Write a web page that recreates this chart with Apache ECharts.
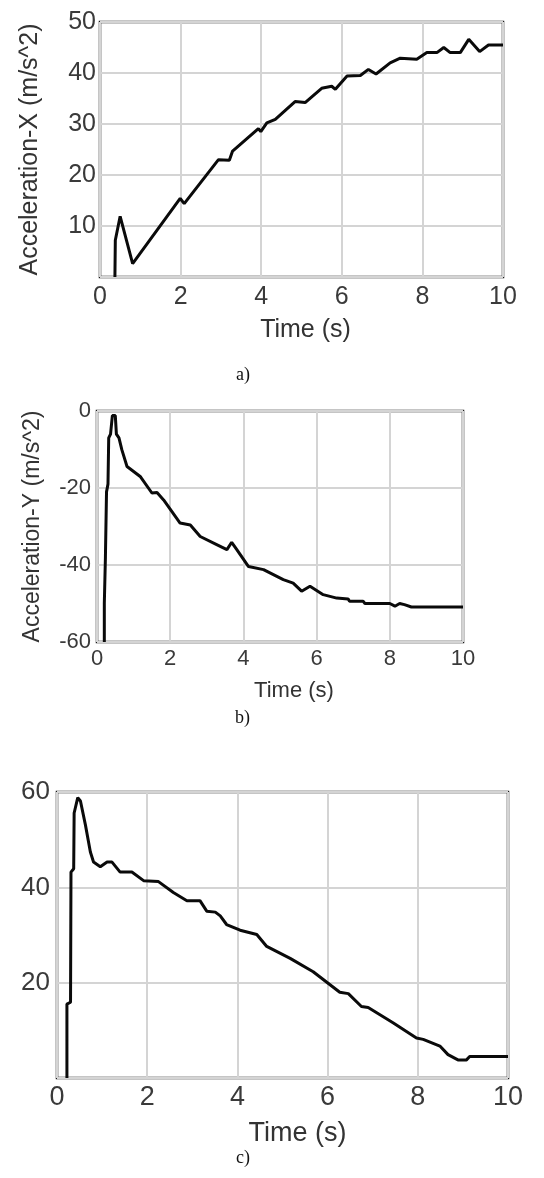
<!DOCTYPE html>
<html>
<head>
<meta charset="utf-8">
<script src="https://cdn.jsdelivr.net/npm/echarts@6/dist/echarts.min.js"></script>
<style>
html,body{margin:0;padding:0;background:#fff;}
#c{width:544px;height:1178px;}
</style>
</head>
<body>
<div id="c"></div>
<script>
// ---- data ----
const timeA  = [0.37,0.38,0.50,0.81,1.99,2.09,2.94,3.21,3.29,3.93,3.99,4.14,4.35,4.84,5.09,5.50,5.75,5.84,6.13,6.46,6.66,6.85,7.20,7.45,7.86,8.11,8.36,8.53,8.69,8.94,9.15,9.42,9.64,10.0];
const accelX = [0,7.2,11.9,2.6,15.4,14.4,23.0,22.9,24.7,29.1,28.5,30.2,30.9,34.4,34.2,37.0,37.4,36.8,39.4,39.5,40.7,39.8,42.0,42.9,42.7,44.0,44.0,45.0,44.0,44.0,46.6,44.2,45.5,45.5];

const timeB  = [0.20,0.20,0.23,0.26,0.30,0.32,0.37,0.42,0.50,0.53,0.60,0.68,0.82,1.18,1.50,1.64,1.82,2.27,2.55,2.82,3.27,3.55,3.68,3.82,4.14,4.55,5.09,5.36,5.59,5.82,6.18,6.55,6.86,6.90,7.27,7.32,8.00,8.14,8.27,8.40,8.59,10.0];
const accelY = [-60,-50,-38,-21,-19,-7,-6,-1.2,-1.2,-6,-7,-10.1,-14.4,-17.0,-21.3,-21.2,-23.1,-29.1,-29.6,-32.6,-34.7,-36.0,-34.1,-36.0,-40.4,-41.2,-43.8,-44.7,-46.8,-45.5,-47.7,-48.6,-48.8,-49.4,-49.4,-50.0,-50.0,-50.7,-50.0,-50.3,-50.9,-50.9];

const timeC  = [0.22,0.22,0.30,0.31,0.37,0.38,0.46,0.52,0.63,0.74,0.81,0.96,1.11,1.22,1.40,1.66,1.92,2.25,2.58,2.88,3.17,3.32,3.51,3.62,3.76,4.06,4.43,4.65,5.17,5.68,6.27,6.46,6.75,6.90,7.45,7.97,8.12,8.49,8.67,8.89,9.08,9.15,10.0];
const accelC = [0,15.5,15.9,43.2,43.9,55.6,58.8,58.1,53.1,47.4,45.3,44.3,45.3,45.3,43.2,43.2,41.4,41.2,38.9,37.2,37.2,35.0,34.8,34.0,32.2,31.0,30.1,27.6,25.1,22.3,18.0,17.7,15.0,14.8,11.6,8.4,8.1,6.7,4.9,3.8,3.8,4.5,4.5];

const xTicks = {min:0, max:10, interval:2};
const yTicksA = {min:0, max:50, interval:10};
const yTicksB = {min:-60, max:0, interval:20};
const yTicksC = {min:0, max:60, interval:20};

const xName = 'Time (s)';
const yNameA = 'Acceleration-X (m/s^2)';
const yNameB = 'Acceleration-Y (m/s^2)';
const captions = ['a)','b)','c)'];

// ---- chart ----
const FONT = '"Liberation Sans", Arial, Helvetica, sans-serif';
const pair = (xs, ys) => xs.map((x,i)=>[x, ys[i]]);
const split = {show:true, lineStyle:{color:'#d4d4d4', width:2}};

function xAxis(gi, fs, gap, margin, namePad) {
  return Object.assign({
    type:'value', gridIndex:gi,
    name:xName, nameLocation:'middle', nameGap:gap,
    nameTextStyle:{fontFamily:FONT, fontSize:fs, color:'#333', padding:[0,0,0,namePad]},
    axisLine:{show:false}, axisTick:{show:false},
    axisLabel:{fontFamily:FONT, fontSize:fs, color:'#3a3a3a', margin:margin},
    splitLine:split
  }, xTicks);
}
function yAxis(gi, ticks, fs, name, nfs, gap, margin, hideZero) {
  return Object.assign({
    type:'value', gridIndex:gi,
    name:name, nameLocation:'middle', nameGap:gap,
    nameTextStyle:{fontFamily:FONT, fontSize:nfs, color:'#333'},
    axisLine:{show:false}, axisTick:{show:false},
    axisLabel:{fontFamily:FONT, fontSize:fs, color:'#3a3a3a', margin:margin,
      formatter:v => (hideZero && v===0) ? '' : String(v)},
    splitLine:split
  }, ticks);
}
const border = {show:true, borderColor:'#1a1a1a', borderWidth:2.5, backgroundColor:'#fff'};
const lineSeries = (i, data) => ({
  type:'line', xAxisIndex:i, yAxisIndex:i, data:data, showSymbol:false,
  lineStyle:{color:'#0a0a0a', width:3}, animation:false
});

const chart = echarts.init(document.getElementById('c'), null, {renderer:'canvas'});
chart.setOption({
  backgroundColor:'#fff',
  animation:false,
  grid:[
    Object.assign({left:100, top:22, width:403, height:255}, border),
    Object.assign({left:97, top:411, width:366, height:231}, border),
    Object.assign({left:57, top:792, width:451, height:286}, border)
  ],
  xAxis:[ xAxis(0, 25, 41, 8, 8), xAxis(1, 22, 38, 6, 28), xAxis(2, 27, 42, 6, 30) ],
  yAxis:[
    yAxis(0, yTicksA, 25, yNameA, 25, 57, 4, true),
    yAxis(1, yTicksB, 22, yNameB, 23, 53, 6, false),
    yAxis(2, yTicksC, 26, '', 26, 60, 7, true)
  ],
  series:[
    lineSeries(0, pair(timeA, accelX)),
    lineSeries(1, pair(timeB, accelY)),
    lineSeries(2, pair(timeC, accelC))
  ],
  graphic:[
    {type:'text', left:236, top:366, style:{text:captions[0], font:'18px "Liberation Serif", "Times New Roman", serif', fill:'#111'}},
    {type:'text', left:235, top:709, style:{text:captions[1], font:'18px "Liberation Serif", "Times New Roman", serif', fill:'#111'}},
    {type:'text', left:236, top:1149, style:{text:captions[2], font:'18px "Liberation Serif", "Times New Roman", serif', fill:'#111'}}
  ]
});
</script>
</body>
</html>
